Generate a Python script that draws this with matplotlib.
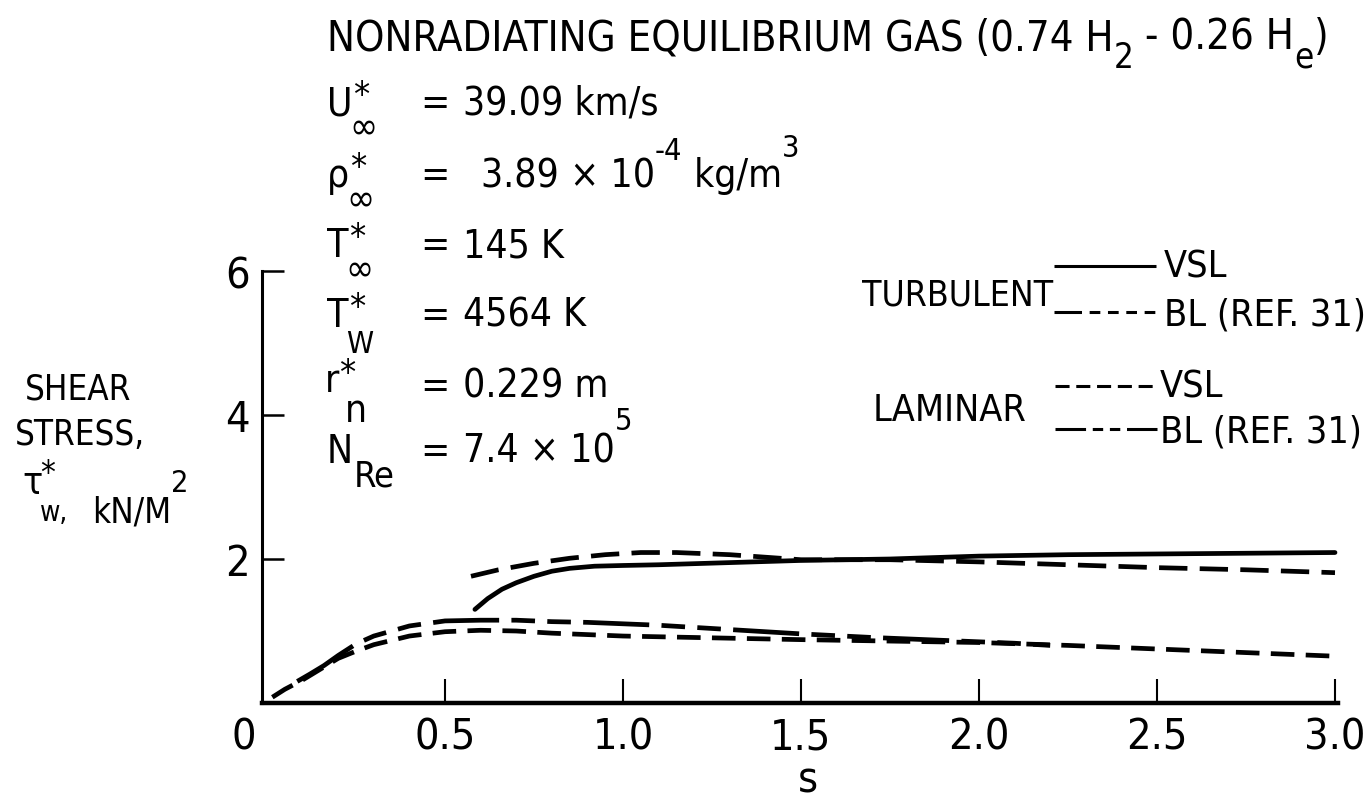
import matplotlib
matplotlib.use('Agg')
import matplotlib.pyplot as plt
from matplotlib.lines import Line2D
from matplotlib import font_manager as fm

# ---------------- data ----------------
turb_vsl_s   = [0.584, 0.62, 0.66, 0.70, 0.75, 0.80, 0.85, 0.92, 1.00, 1.10, 1.30, 1.50, 1.75, 2.00, 2.25, 2.50, 2.75, 3.00]
turb_vsl_tau = [1.30, 1.45, 1.58, 1.67, 1.76, 1.83, 1.87, 1.90, 1.91, 1.92, 1.95, 1.98, 2.00, 2.04, 2.06, 2.07, 2.08, 2.09]

turb_bl_s    = [0.573, 0.65, 0.75, 0.85, 0.95, 1.05, 1.15, 1.30, 1.50, 1.75, 2.00, 2.25, 2.50, 2.75, 3.00]
turb_bl_tau  = [1.76, 1.85, 1.94, 2.01, 2.06, 2.09, 2.09, 2.06, 1.99, 1.99, 1.96, 1.92, 1.88, 1.85, 1.81]

lam_vsl_s    = [0.015, 0.05, 0.10, 0.15, 0.20, 0.25, 0.30, 0.40, 0.50, 0.60, 0.70, 0.80, 0.90, 1.00, 1.10, 1.30, 1.50, 1.75, 2.00, 2.25, 2.50, 2.75, 3.00]
lam_vsl_tau  = [0.08, 0.19, 0.32, 0.47, 0.62, 0.72, 0.81, 0.93, 0.99, 1.01, 1.00, 0.97, 0.95, 0.93, 0.92, 0.90, 0.88, 0.86, 0.84, 0.80, 0.75, 0.70, 0.65]

lam_bl_s     = [0.085, 0.12, 0.16, 0.20, 0.25, 0.30, 0.40, 0.50, 0.60, 0.70, 0.80, 0.90, 1.00, 1.10, 1.30, 1.50, 1.70, 1.90, 2.10, 2.20]
lam_bl_tau   = [0.30, 0.40, 0.52, 0.66, 0.82, 0.93, 1.07, 1.14, 1.15, 1.15, 1.13, 1.12, 1.10, 1.08, 1.02, 0.96, 0.91, 0.87, 0.83, 0.80]

x_ticks = [0.5, 1.0, 1.5, 2.0, 2.5, 3.0]
x_tick_labels = ['0.5', '1.0', '1.5', '2.0', '2.5', '3.0']
y_ticks = [2, 4, 6]
y_tick_labels = ['2', '4', '6']

# ---------------- font choice: narrowest available ----------------
names = {f.name for f in fm.fontManager.ttflist}
cond = [f for f in fm.fontManager.ttflist if f.name == 'DejaVu Sans' and f.stretch in ('condensed', 500, 'semi-condensed')]
if 'Liberation Sans Narrow' in names:
    FAM, STRETCH = 'Liberation Sans Narrow', 'normal'
elif cond:
    FAM, STRETCH = 'DejaVu Sans', 'condensed'
else:
    FAM, STRETCH = 'Liberation Sans', 'normal'
plt.rcParams['font.family'] = [FAM, 'DejaVu Sans']
plt.rcParams['font.stretch'] = STRETCH

# ---------------- figure ----------------
W, H = 1369, 804
fig = plt.figure(figsize=(W / 100, H / 100), dpi=100)
fig.patch.set_facecolor('white')

ax = fig.add_axes([262 / W, 1 - 704 / H, (1338 - 262) / W, (704 - 272) / H])
ax.set_xlim(-5 / 356, (1338 - 267) / 356)
ax.set_ylim(0, 6)
ax.patch.set_alpha(0)

LW = 3.4
ax.plot(turb_vsl_s, turb_vsl_tau, color='black', lw=LW, solid_capstyle='round')
ax.plot(turb_bl_s, turb_bl_tau, color='black', lw=LW, linestyle=(0, (6, 2.6)))
ax.plot(lam_vsl_s, lam_vsl_tau, color='black', lw=LW, linestyle=(0, (5, 2.4)))
ax.plot(lam_bl_s, lam_bl_tau, color='black', lw=LW, linestyle=(0, (14, 2.6, 5, 2.6, 5, 2.6)))

for side in ('top', 'right'):
    ax.spines[side].set_visible(False)
ax.spines['left'].set_linewidth(2.2)
ax.spines['bottom'].set_linewidth(3.2)

ax.set_xticks(x_ticks)
ax.set_xticklabels(x_tick_labels)
ax.set_yticks(y_ticks)
ax.set_yticklabels(y_tick_labels)
ax.tick_params(axis='x', direction='in', length=17, width=1.5, pad=9, labelsize=31)
ax.tick_params(axis='y', direction='in', length=16, width=1.8, pad=9, labelsize=31)

# ---------------- text helpers ----------------
def fx(px):
    return px / W

def fy(py):
    return 1 - py / H

renderer = fig.canvas.get_renderer()

def txt(px, py, s, size, ha='left', va='baseline', **kw):
    return fig.text(fx(px), fy(py), s, fontsize=size, ha=ha, va=va, **kw)

def seq(px, base, pieces):
    x = px
    for s, size, dy in pieces:
        t = txt(x, base + dy, s, size)
        bb = t.get_window_extent(renderer)
        x += bb.width
    return x

# "0" tick label at origin
txt(244, 717, '0', 31, ha='center', va='top')
# x axis label
txt(808, 802, 's', 31, ha='center', va='bottom')

# ---------------- title ----------------
seq(327, 50, [('NONRADIATING EQUILIBRIUM GAS (0.74 H', 30, 0),
              ('2', 25, 18),
              (' - 0.26 H', 30, 0),
              ('e', 25, 18),
              (')', 30, 0)])

# ---------------- parameter block ----------------
rows = [
    ('U', '∞', 115),
    ('ρ', '∞', 187),
    ('T', '∞', 257),
    ('T', 'W', 327),
]
for sym, sub, base in rows:
    t = txt(327, base, sym, 28)
    w = t.get_window_extent(renderer).width
    txt(327 + w + 1, base - 9, '*', 26)
    if sub == '∞':
        txt(327 + w - 3, base + 24, '∞', 27)
    else:
        txt(327 + w - 2, base + 26, sub, 22)
    txt(420, base, '=', 28)

seq(463, 115, [('39.09 km/s', 28, 0)])
seq(481, 187, [('3.89 × 10', 28, 0), ('-4', 22, -27), (' kg/m', 28, 0), ('3', 22, -30)])
seq(463, 257, [('145 K', 28, 0)])
seq(463, 327, [('4564 K', 28, 0)])

# r*_n
t = txt(325, 392, 'r', 28)
w = t.get_window_extent(renderer).width
txt(325 + w, 384, '*', 26)
txt(345, 422, 'n', 28)
txt(420, 398, '=', 28)
seq(463, 398, [('0.229 m', 28, 0)])

# N_Re
t = txt(327, 463, 'N', 28)
w = t.get_window_extent(renderer).width
txt(327 + w + 1, 487, 'Re', 26)
txt(420, 463, '=', 28)
seq(463, 463, [('7.4 × 10', 28, 0), ('5', 22, -33)])

# ---------------- y label ----------------
txt(25, 400, 'SHEAR', 25)
txt(15, 445, 'STRESS,', 25)
txt(22, 494, 'τ', 27)
txt(40, 484, '*', 24)
txt(40, 521, 'w,', 20)
seq(92, 522, [('kN/M', 25, 0), ('2', 22, -30)])

# ---------------- legend ----------------
txt(862, 305, 'TURBULENT', 25.5)
txt(873, 421, 'LAMINAR', 27)

txt(1164, 278, 'VSL', 27)
txt(1164, 326, 'BL (REF. 31)', 27)
txt(1160, 398, 'VSL', 27)
txt(1160, 443, 'BL (REF. 31)', 27)

def leg_line(x0, x1, y, ls):
    fig.add_artist(Line2D([fx(x0), fx(x1)], [fy(y), fy(y)], transform=fig.transFigure,
                          color='black', lw=2.2, linestyle=ls, solid_capstyle='butt',
                          dash_capstyle='butt'))

leg_line(1054, 1156, 267, '-')
leg_line(1054, 1156, 313, (0, (9, 2.5, 3.5, 2.5, 3.5, 2.5, 3.5, 2.5, 3.5, 9)))
leg_line(1055, 1157, 387, (0, (4.6, 2.2)))
leg_line(1055, 1157, 430, (0, (10, 2.2, 3.4, 2.2, 3.4, 2.2, 20)))

fig.savefig('out.png', dpi=100, facecolor='white')
